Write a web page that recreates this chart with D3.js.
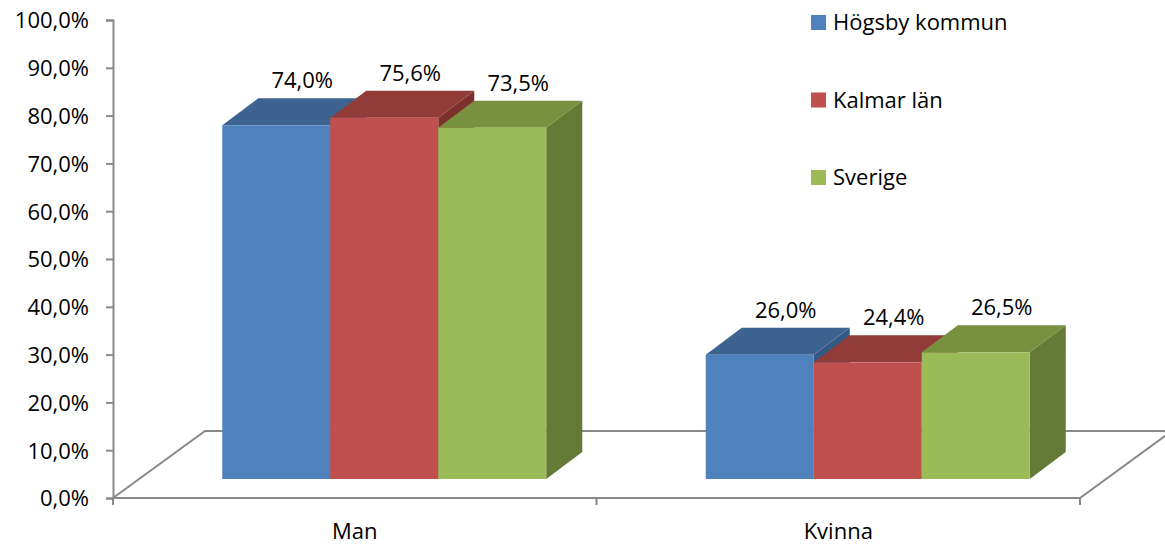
<!DOCTYPE html>
<html>
<head>
<meta charset="utf-8">
<script src="https://cdn.jsdelivr.net/npm/d3@7"></script>
<style>
  html, body { margin: 0; padding: 0; background: #ffffff; }
  svg { display: block; }
  text { font-family: "Open Sans", Lato, sans-serif; fill: #000; }
</style>
</head>
<body>
<svg id="chart" width="1165" height="545"></svg>
<script>
const categories = ["Man", "Kvinna"];
const seriesNames = ["Högsby kommun", "Kalmar län", "Sverige"];
const hogsby = [74.0, 26.0];
const kalmar = [75.6, 24.4];
const sverige = [73.5, 26.5];
const yTicks = [0, 10, 20, 30, 40, 50, 60, 70, 80, 90, 100];

const seriesValues = [hogsby, kalmar, sverige];
const frontColors = ["#4F81BD", "#C0504D", "#9BBB59"];
const topColors   = ["#3D6491", "#923C3A", "#779140"];
const sideColors  = ["#345884", "#7D302E", "#657A37"];

const FONT = '"Open Sans", Lato, sans-serif';
const FS = "22px";

const svg = d3.select("#chart");
const fmt = v => d3.format(".1f")(v).replace(".", ",") + "%";

// geometry
const axisX = 113, floorY = 498, topY = 20, rightX = 1080;
const floorDepth = { dx: 92, dy: -67 };
const barShift = { dx: 29.5, dy: -19 };   // front face of bars is set back
const barDepth = { dx: 36, dy: -27 };     // bar thickness
const groupWidth = 324;

const y = d3.scaleLinear().domain([0, 100]).range([floorY, topY]);
const x0 = d3.scaleBand().domain(categories).range([axisX, rightX]).padding(0);
const x1 = d3.scaleBand().domain(seriesNames).range([0, groupWidth]).padding(0);

const gridColor = "#898989";

// floor
const floor = svg.append("g").attr("stroke", gridColor).attr("stroke-width", 2).attr("fill", "none");
floor.append("path").attr("d", d3.line()([
  [axisX, floorY],
  [axisX + floorDepth.dx, floorY + floorDepth.dy],
  [rightX + floorDepth.dx, floorY + floorDepth.dy]
]));
floor.append("path").attr("d", d3.line()([
  [axisX, floorY],
  [rightX, floorY],
  [rightX + floorDepth.dx, floorY + floorDepth.dy]
]));

// y axis
const yAxis = d3.axisLeft(y).tickValues(yTicks).tickSize(7).tickPadding(17).tickFormat(fmt);
const gy = svg.append("g").attr("transform", `translate(${axisX},0)`).call(yAxis);
gy.select(".domain").attr("stroke", gridColor).attr("stroke-width", 2);
gy.selectAll(".tick line").attr("stroke", gridColor).attr("stroke-width", 2);
gy.selectAll(".tick text").style("font-size", FS).attr("dy", "0.36em")
  .style("font-family", FONT).attr("fill", "#000");

// x axis
const xAxis = d3.axisBottom(x0).tickSize(0).tickPadding(0);
const gx = svg.append("g").attr("transform", `translate(0,${floorY})`).call(xAxis);
gx.select(".domain").remove();
gx.selectAll(".tick text").style("font-size", FS).attr("y", 41).attr("dy", 0)
  .style("font-family", FONT).attr("fill", "#000");
// category boundary ticks
const bounds = [x0(categories[0]), ...categories.map(c => x0(c) + x0.bandwidth())];
svg.append("g").selectAll("line").data(bounds).join("line")
  .attr("x1", d => d).attr("x2", d => d)
  .attr("y1", floorY).attr("y2", floorY + 7)
  .attr("stroke", gridColor).attr("stroke-width", 2);

// bars
const bars = svg.append("g");
categories.forEach((cat, ci) => {
  const gStart = x0(cat) + (x0.bandwidth() - groupWidth) / 2 + barShift.dx;
  seriesNames.forEach((s, si) => {
    const v = seriesValues[si][ci];
    const xl = gStart + x1(s);
    const xr = xl + x1.bandwidth();
    const yb = y(0) + barShift.dy;
    const yt = y(v) + barShift.dy;
    const g = bars.append("g");
    // side
    g.append("path").attr("fill", sideColors[si]).attr("d", d3.line()([
      [xr, yt], [xr + barDepth.dx, yt + barDepth.dy],
      [xr + barDepth.dx, yb + barDepth.dy], [xr, yb]
    ]) + "Z");
    // top
    g.append("path").attr("fill", topColors[si]).attr("d", d3.line()([
      [xl, yt], [xr, yt], [xr + barDepth.dx, yt + barDepth.dy], [xl + barDepth.dx, yt + barDepth.dy]
    ]) + "Z");
    // front
    g.append("rect").attr("x", xl).attr("y", yt).attr("width", xr - xl).attr("height", yb - yt)
      .attr("fill", frontColors[si]);
  });
});

// value labels
categories.forEach((cat, ci) => {
  const gStart = x0(cat) + (x0.bandwidth() - groupWidth) / 2 + barShift.dx;
  seriesNames.forEach((s, si) => {
    const v = seriesValues[si][ci];
    const cx = gStart + x1(s) + x1.bandwidth() / 2 + 26;
    const yt = y(v) + barShift.dy + barDepth.dy - 10;
    svg.append("text").attr("x", cx).attr("y", yt).attr("text-anchor", "middle")
      .style("font-size", FS).style("font-family", FONT).text(fmt(v));
  });
});

// legend
const legend = svg.append("g").attr("transform", "translate(811,15)");
seriesNames.forEach((s, i) => {
  const g = legend.append("g").attr("transform", `translate(0,${i * 77.5})`);
  g.append("rect").attr("width", 15).attr("height", 15).attr("fill", frontColors[i]);
  g.append("text").attr("x", 22).attr("y", 15).style("font-size", FS)
    .style("font-family", FONT).text(s);
});
</script>
</body>
</html>
